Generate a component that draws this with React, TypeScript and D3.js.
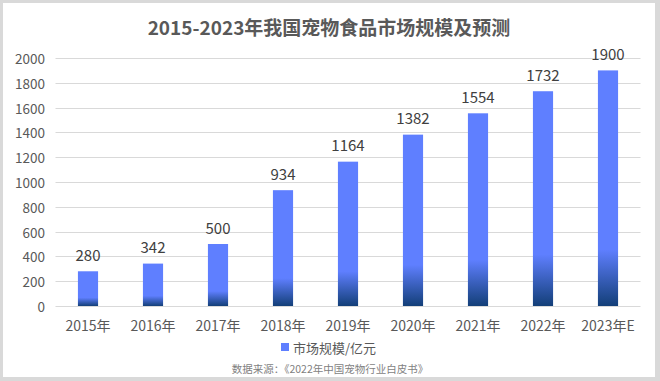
import React from "react";
import * as d3 from "d3";

const categories = ["2015年", "2016年", "2017年", "2018年", "2019年", "2020年", "2021年", "2022年", "2023年E"];
const values = [280, 342, 500, 934, 1164, 1382, 1554, 1732, 1900];
const yTicks = [0, 200, 400, 600, 800, 1000, 1200, 1400, 1600, 1800, 2000];

const W = 660, H = 381;
const left = 55.5, right = 640.5, top = 58, bottom = 306;
const font = "'Microsoft YaHei', 'Noto Sans CJK SC', 'Noto Sans', sans-serif";

export default function App() {
  const x = d3.scaleBand<string>().domain(categories).range([left, right]).paddingInner(0.69).paddingOuter(0.345);
  const y = d3.scaleLinear().domain([0, 2000]).range([bottom, top]);
  return (
    <svg width={W} height={H} style={{ position: "absolute", left: 0, top: 0 }} fontFamily={font}>
      <defs>
        <linearGradient id="barG" x1="0" y1="0" x2="0" y2="1">
          <stop offset="0" stopColor="#5f7fff" />
          <stop offset="0.76" stopColor="#5f7fff" />
          <stop offset="1" stopColor="#133f78" />
        </linearGradient>
      </defs>
      <rect x={0} y={0} width={W} height={H} fill="#d9d9d9" />
      <rect x={3} y={3} width={652} height={374} fill="#ffffff" />
      <text x={329} y={26.5} textAnchor="middle" dominantBaseline="central" fontSize={19} fontWeight="bold" fill="#595959">
        2015-2023年我国宠物食品市场规模及预测
      </text>
      {yTicks.map((t) => (
        <g key={t}>
          <line x1={left} x2={right} y1={Math.round(y(t)) + 0.5} y2={Math.round(y(t)) + 0.5} stroke="#d9d9d9" strokeWidth={1} />
          <text x={45} y={y(t)} textAnchor="end" dominantBaseline="central" fontSize={13.5} fill="#595959">{t}</text>
        </g>
      ))}
      {categories.map((c, i) => (
        <g key={c}>
          <rect x={x(c)!} y={y(values[i])} width={x.bandwidth()} height={bottom - y(values[i])} fill="url(#barG)" />
          <text x={x(c)! + x.bandwidth() / 2} y={y(values[i]) - 17} textAnchor="middle" dominantBaseline="central" fontSize={15} fill="#404040">{values[i]}</text>
          <text x={x(c)! + x.bandwidth() / 2} y={325} textAnchor="middle" dominantBaseline="central" fontSize={14} fill="#595959">{c}</text>
        </g>
      ))}
      <rect x={281} y={343} width={8} height={8} fill="#5f7fff" />
      <text x={293} y={347.5} dominantBaseline="central" fontSize={13} fill="#595959">市场规模/亿元</text>
      <text x={330} y={368} textAnchor="middle" dominantBaseline="central" fontSize={10.5} fill="#7f7f7f">数据来源：《2022年中国宠物行业白皮书》</text>
    </svg>
  );
}
